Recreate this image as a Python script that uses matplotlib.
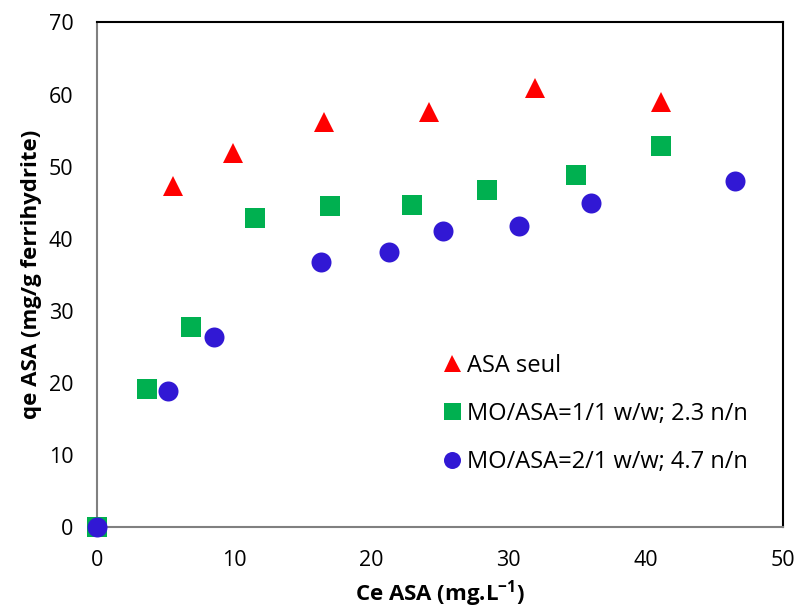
import matplotlib
matplotlib.use("Agg")
import matplotlib.pyplot as plt

plt.rcParams['font.family'] = ['Open Sans', 'DejaVu Sans']
plt.rcParams['mathtext.fontset'] = 'custom'
plt.rcParams['mathtext.rm'] = 'Open Sans'
plt.rcParams['mathtext.bf'] = 'Open Sans:bold'

# Data
x_seul = [5.56, 9.88, 16.54, 24.17, 31.9, 41.08]
y_seul = [47.3, 51.9, 56.2, 57.6, 60.9, 58.9]

x_11 = [0, 3.62, 6.83, 11.49, 16.96, 22.98, 28.4, 34.9, 41.1]
y_11 = [0, 19.1, 27.7, 42.8, 44.5, 44.6, 46.7, 48.8, 52.8]

x_21 = [0, 5.15, 8.55, 16.33, 21.3, 25.2, 30.75, 36.0, 46.5]
y_21 = [0, 18.8, 26.3, 36.7, 38.1, 41.1, 41.8, 44.9, 48.0]

labels = ["ASA seul", "MO/ASA=1/1 w/w; 2.3 n/n", "MO/ASA=2/1 w/w; 4.7 n/n"]
xticks = [0, 10, 20, 30, 40, 50]
yticks = [0, 10, 20, 30, 40, 50, 60, 70]

fig = plt.figure(figsize=(7.98, 6.13), dpi=100)
ax = fig.add_axes([0.1216, 0.1408, 0.8596, 0.8225])

ms = 14.4
ax.plot(x_seul, y_seul, linestyle='none', marker='^', markersize=ms,
        color='#FF0000', markeredgewidth=0, label=labels[0], clip_on=False, zorder=3)
ax.plot(x_11, y_11, linestyle='none', marker='s', markersize=ms,
        color='#00B050', markeredgewidth=0, label=labels[1], clip_on=False, zorder=3)
ax.plot(x_21, y_21, linestyle='none', marker='o', markersize=ms,
        color='#3118D4', markeredgewidth=0, label=labels[2], clip_on=False, zorder=3)

ax.set_xlim(0, 50)
ax.set_ylim(0, 70)
ax.set_xticks(xticks)
ax.set_yticks(yticks)
ax.tick_params(axis='both', length=0, labelsize=15.5, pad=17)

for s in ['left', 'bottom']:
    ax.spines[s].set_color('#808080')
    ax.spines[s].set_linewidth(1.5)
for s in ['top', 'right']:
    ax.spines[s].set_color('#000000')
    ax.spines[s].set_linewidth(1.5)

ax.set_xlabel('Ce ASA (mg.L$^{\\mathbf{-1}}$)', fontsize=16, fontweight='bold', labelpad=5)
ax.set_ylabel('qe ASA (mg/g ferrihydrite)', fontsize=16, fontweight='bold', labelpad=5)

leg = ax.legend(loc='upper left', bbox_to_anchor=(0.49, 0.362), frameon=False,
                fontsize=17, markerscale=0.85, handlelength=0.8,
                handletextpad=0.25, labelspacing=1.02, borderaxespad=0)

fig.savefig('out.png', dpi=100)
